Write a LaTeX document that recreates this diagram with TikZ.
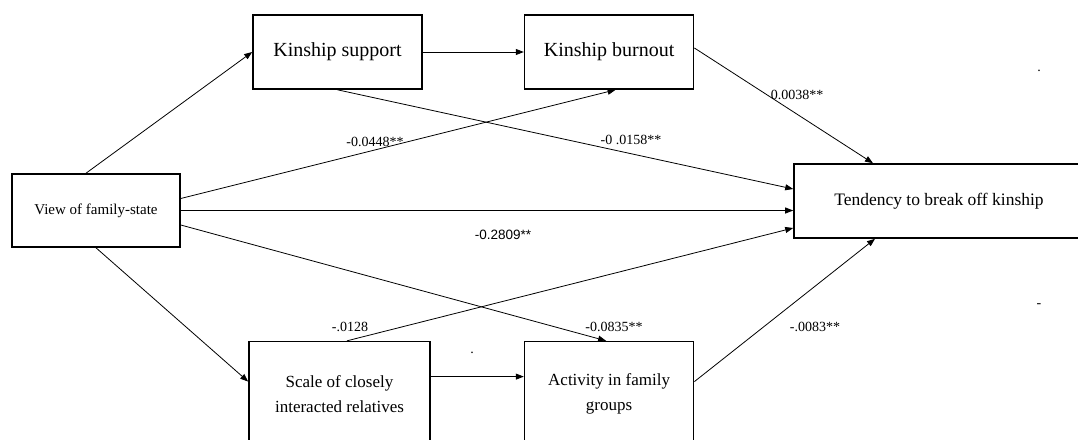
\documentclass[tikz,border=0pt]{standalone}
\usepackage{fontspec}
\setmainfont{Liberation Serif}
\newfontfamily\arialfont{Liberation Sans}
\usetikzlibrary{positioning, arrows.meta}
\tikzset{
  var/.style={draw, line width=1.6pt, align=center, inner sep=0pt,
              minimum width=169pt, minimum height=74pt},
  link/.style={-{Triangle[length=8pt, width=6pt]}, line width=0.8pt},
  coef/.style={font=\fontsize{14}{16}\selectfont, inner sep=0pt}
}

\begin{document}
\begin{tikzpicture}[x=1pt, y=-1pt]
  \useasboundingbox (0,0) rectangle (1078,439);
  \clip (0,0) rectangle (1078,439);
  \node[var, minimum width=168pt, minimum height=73pt, font=\fontsize{15}{17}\selectfont] (view) at (96,210.5) {View of family-state};
  \node[var, font=\fontsize{20}{22}\selectfont] (sup) at (337.5,52) {Kinship support};
  \node[var, right=101pt of sup, font=\fontsize{20}{22}\selectfont] (burn) {Kinship burnout};
  \node[var, minimum width=290pt, font=\fontsize{17.5}{20}\selectfont] (tend) at (939,201) {Tendency to break off kinship};
  \node[var, minimum height=104pt, below=251pt of burn, font=\fontsize{17}{25}\selectfont] (act) {Activity in family\\groups};
  \node[var, minimum width=181pt, minimum height=104pt, left=93pt of act, font=\fontsize{17}{25}\selectfont] (scale) {Scale of closely\\interacted relatives};
  % paths
  \draw[link] ([xshift=-10pt]view.north) -- (sup.west);
  \draw[link] (sup.east) -- (burn.west);
  \draw[link] ([yshift=12pt]view.east) -- ([xshift=6.5pt]burn.south);
  \draw[link] (sup.south) -- ([yshift=12pt]tend.west);
  \draw[link] ([yshift=4pt]burn.east) -- ([xshift=-66pt]tend.north);
  \draw[link] (view.east) -- (view.east -| tend.west);
  \draw[link] ([yshift=-14.5pt]view.east) -- ([xshift=-3pt]act.north);
  \draw[link] ([xshift=7.5pt]scale.north) -- ([yshift=-27pt]tend.west);
  \draw[link] ([yshift=17pt]scale.east) -- ([yshift=17pt]scale.east -| act.west);
  \draw[link] ([yshift=12pt]act.east) -- ([xshift=-64pt]tend.south);
  \draw[link] (view.south) -- ([yshift=12pt]scale.west);
  % coefficients
  \node[coef] (c1) at (375,142) {-0.0448**};
  \node[coef] (c2) at (631,140) {-0 .0158**};
  \node[coef] (c3) at (797,95) {0.0038**};
  \node[coef, font=\arialfont\fontsize{13.5}{16}\selectfont] (c4) at (503,235) {-0.2809**};
  \node[coef] (c5) at (614,327) {-0.0835**};
  \node[coef] (c6) at (350,327) {-.0128};
  \node[coef] (c7) at (815,327) {-.0083**};
  \node[coef] (d1) at (1039,71) {.};
  \node[coef] (d2) at (1039,306) {-};
  \node[coef] (d3) at (472,353) {.};
\end{tikzpicture}
\end{document}
